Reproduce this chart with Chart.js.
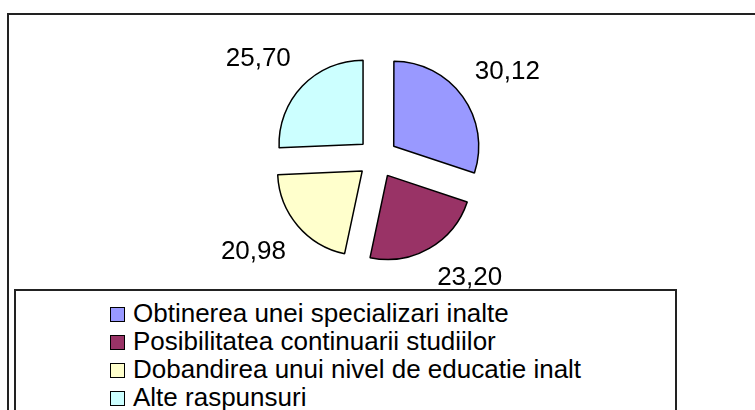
<!DOCTYPE html>
<html>
<head>
<meta charset="utf-8">
<script src="https://cdn.jsdelivr.net/npm/chart.js@4.4.1/dist/chart.umd.min.js"></script>
<style>
    body { margin: 0; background: #fff; font-family: 'Liberation Sans', Arial, sans-serif; }
    #wrap { position: relative; width: 755px; height: 410px; overflow: hidden; }
    #frame { position: absolute; left: 7px; top: 13px; width: 800px; height: 450px; border: 2px solid #222; }
    #chart-canvas { position: absolute; left: 0; top: 0; }
    #legend-box { position: absolute; left: 14px; top: 289px; width: 659px; height: 200px; border: 2px solid #222; background: #fff; }
    #legend-box ul { list-style: none; margin: 0; padding: 0; position: absolute; left: 94px; top: 8px; }
    #legend-box li { height: 28px; line-height: 28px; font-size: 26px; color: #000; white-space: nowrap; }
    #legend-box .swatch { display: inline-block; width: 13px; height: 13px; border: 1px solid #000; margin-right: 8px; vertical-align: 0px; }
</style>
</head>
<body>
<div id="wrap">
    <div id="frame"></div>
    <canvas id="chart-canvas" width="755" height="410"></canvas>
    <div id="legend-box"><ul id="legend-list"></ul></div>
</div>
<script>
const categories = [
    'Obtinerea unei specializari inalte',
    'Posibilitatea continuarii studiilor',
    'Dobandirea unui nivel de educatie inalt',
    'Alte raspunsuri'
];
const values = [30.12, 23.20, 20.98, 25.70];
const sliceColors = ['#9999ff', '#993366', '#ffffcc', '#ccffff'];

const canvas = document.getElementById('chart-canvas');
const legendList = document.getElementById('legend-list');

// value labels outside each slice: anchor on the mid angle, text box pushed outward
const outsideLabels = {
    id: 'outsideLabels',
    afterDatasetsDraw(chart) {
        const ctx = chart.ctx;
        const meta = chart.getDatasetMeta(0);
        ctx.save();
        ctx.font = "26px 'Liberation Sans', Arial, sans-serif";
        ctx.fillStyle = '#000';
        ctx.textAlign = 'center';
        ctx.textBaseline = 'middle';
        meta.data.forEach((arc, i) => {
            const mid = (arc.startAngle + arc.endAngle) / 2;
            const r = arc.outerRadius + 36;
            const cx = Math.cos(mid), cy = Math.sin(mid);
            const text = values[i].toFixed(2).replace('.', ',');
            const hw = ctx.measureText(text).width / 2;
            const x = arc.x + cx * r + Math.sign(cx) * hw;
            const y = arc.y + cy * r + Math.sign(cy) * 16;
            ctx.fillText(text, x, y);
        });
        ctx.restore();
    }
};

new Chart(canvas, {
    type: 'pie',
    data: {
        labels: categories,
        datasets: [{
            data: values,
            backgroundColor: sliceColors,
            borderColor: '#000',
            borderWidth: 1.5,
            offset: 80,
            hoverOffset: 0
        }]
    },
    options: {
        responsive: false,
        animation: false,
        radius: 84,
        layout: { padding: { left: 0, right: 0, top: 0, bottom: 94 } },
        plugins: {
            legend: { display: false },
            tooltip: { enabled: false }
        }
    },
    plugins: [outsideLabels]
});

categories.forEach((name, i) => {
    const li = document.createElement('li');
    const sw = document.createElement('span');
    sw.className = 'swatch';
    sw.style.background = sliceColors[i];
    li.appendChild(sw);
    li.appendChild(document.createTextNode(name));
    legendList.appendChild(li);
});
</script>
</body>
</html>
